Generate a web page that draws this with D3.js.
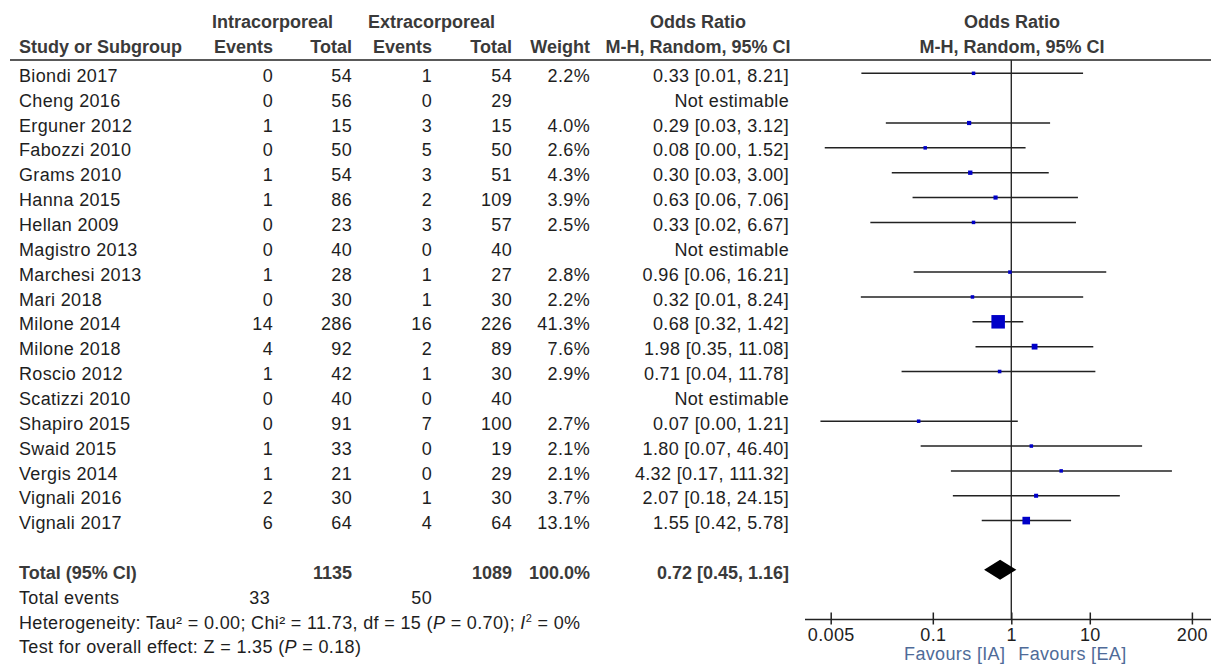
<!DOCTYPE html>
<html>
<head>
<meta charset="utf-8">
<script src="https://cdn.jsdelivr.net/npm/d3@7/dist/d3.min.js"></script>
<style>
  html, body { margin: 0; padding: 0; background: #fff; }
  svg { display: block; }
  text { font-family: "Liberation Sans", Arial, sans-serif; font-size: 18px; fill: #1e1e1e; letter-spacing: 0.35px; }
  .hdr { font-weight: bold; fill: #3a3a3a; letter-spacing: 0px; }
</style>
</head>
<body>
<svg id="chart" width="1211" height="665"></svg>
<script>
// ---------------- data ----------------
const studies = ["Biondi 2017","Cheng 2016","Erguner 2012","Fabozzi 2010","Grams 2010","Hanna 2015",
  "Hellan 2009","Magistro 2013","Marchesi 2013","Mari 2018","Milone 2014","Milone 2018","Roscio 2012",
  "Scatizzi 2010","Shapiro 2015","Swaid 2015","Vergis 2014","Vignali 2016","Vignali 2017"];
const iaEvents = [0,0,1,0,1,1,0,0,1,0,14,4,1,0,0,1,1,2,6];
const iaTotal  = [54,56,15,50,54,86,23,40,28,30,286,92,42,40,91,33,21,30,64];
const eaEvents = [1,0,3,5,3,2,3,0,1,1,16,2,1,0,7,0,0,1,4];
const eaTotal  = [54,29,15,50,51,109,57,40,27,30,226,89,30,40,100,19,29,30,64];
const weights  = [2.2,null,4.0,2.6,4.3,3.9,2.5,null,2.8,2.2,41.3,7.6,2.9,null,2.7,2.1,2.1,3.7,13.1];
const orValues = [0.33,null,0.29,0.08,0.30,0.63,0.33,null,0.96,0.32,0.68,1.98,0.71,null,0.066,1.80,4.32,2.07,1.55];
const ciLower  = [0.0123,null,0.0252,0.0042,0.030,0.0552,0.016,null,0.057,0.0121,0.32,0.35,0.04,null,0.0037,0.07,0.17,0.18,0.42];
const ciUpper  = [8.21,null,3.12,1.52,3.00,7.06,6.67,null,16.21,8.24,1.42,11.08,11.78,null,1.21,46.40,111.32,24.15,5.78];

const totalIA = 1135, totalEA = 1089, totalWeight = 100.0;
const totalEventsIA = 33, totalEventsEA = 50;
const pooled = [0.72, 0.45, 1.16]; // OR, lower, upper
const tickValues = [0.005, 0.1, 1, 10, 200];
const tickLabels = ["0.005", "0.1", "1", "10", "200"];
const heterogeneity = { tau2: "0.00", chi2: "11.73", df: 15, p: "0.70", i2: "0%" };
const overall = { z: "1.35", p: "0.18" };

// ---------------- layout ----------------
const svg = d3.select("#chart");
const x = d3.scaleLog().domain([0.005, 200]).range([830.7, 1191.9]);
const y = d3.scaleLinear().domain([0, 23]).range([73.3, 73.3 + 23 * 24.85]);
const size = d3.scaleSqrt().domain([0, 41.3]).range([0, 13.5]);
const textOff = 8.6;

const cols = { study: 19, iaEv: 273, iaTot: 352, eaEv: 432, eaTot: 512, weight: 590, or: 789 };

// headers
const H1 = 28, H2 = 53;
svg.append("text").attr("class","hdr").attr("x",212).attr("y",H1).text("Intracorporeal");
svg.append("text").attr("class","hdr").attr("x",368).attr("y",H1).text("Extracorporeal");
svg.append("text").attr("class","hdr").attr("x",698).attr("y",H1).attr("text-anchor","middle").text("Odds Ratio");
svg.append("text").attr("class","hdr").attr("x",1012).attr("y",H1).attr("text-anchor","middle").text("Odds Ratio");
svg.append("text").attr("class","hdr").attr("x",cols.study).attr("y",H2).text("Study or Subgroup");
[["Events",cols.iaEv],["Total",cols.iaTot],["Events",cols.eaEv],["Total",cols.eaTot],["Weight",cols.weight]]
  .forEach(([t,cx]) => svg.append("text").attr("class","hdr").attr("x",cx).attr("y",H2).attr("text-anchor","end").text(t));
svg.append("text").attr("class","hdr").attr("x",698).attr("y",H2).attr("text-anchor","middle").text("M-H, Random, 95% CI");
svg.append("text").attr("class","hdr").attr("x",1012).attr("y",H2).attr("text-anchor","middle").text("M-H, Random, 95% CI");

svg.append("line").attr("x1",10).attr("x2",1211).attr("y1",60).attr("y2",60)
  .attr("stroke","#222").attr("stroke-width",1.6);

// rows
const fmt2 = v => v.toFixed(2);
const rows = svg.append("g");
studies.forEach((s, i) => {
  const ty = y(i) + textOff;
  rows.append("text").attr("x",cols.study).attr("y",ty).text(s);
  rows.append("text").attr("x",cols.iaEv).attr("y",ty).attr("text-anchor","end").text(iaEvents[i]);
  rows.append("text").attr("x",cols.iaTot).attr("y",ty).attr("text-anchor","end").text(iaTotal[i]);
  rows.append("text").attr("x",cols.eaEv).attr("y",ty).attr("text-anchor","end").text(eaEvents[i]);
  rows.append("text").attr("x",cols.eaTot).attr("y",ty).attr("text-anchor","end").text(eaTotal[i]);
  if (weights[i] != null)
    rows.append("text").attr("x",cols.weight).attr("y",ty).attr("text-anchor","end").text(weights[i].toFixed(1) + "%");
  rows.append("text").attr("x",cols.or).attr("y",ty).attr("text-anchor","end")
    .text(orValues[i] == null ? "Not estimable" : `${fmt2(orValues[i])} [${fmt2(ciLower[i])}, ${fmt2(ciUpper[i])}]`);
});

// total rows
const tY = y(20) + textOff;
svg.append("text").attr("class","hdr").attr("x",cols.study).attr("y",tY).text("Total (95% CI)");
svg.append("text").attr("class","hdr").attr("x",cols.iaTot).attr("y",tY).attr("text-anchor","end").text(totalIA);
svg.append("text").attr("class","hdr").attr("x",cols.eaTot).attr("y",tY).attr("text-anchor","end").text(totalEA);
svg.append("text").attr("class","hdr").attr("x",cols.weight).attr("y",tY).attr("text-anchor","end").text(totalWeight.toFixed(1) + "%");
svg.append("text").attr("class","hdr").attr("x",cols.or).attr("y",tY).attr("text-anchor","end")
  .text(`${fmt2(pooled[0])} [${fmt2(pooled[1])}, ${fmt2(pooled[2])}]`);

const eY = y(21) + textOff;
svg.append("text").attr("x",cols.study).attr("y",eY).text("Total events");
svg.append("text").attr("x",cols.iaEv - 3).attr("y",eY).attr("text-anchor","end").text(totalEventsIA);
svg.append("text").attr("x",cols.eaEv).attr("y",eY).attr("text-anchor","end").text(totalEventsEA);

const hY = y(22) + textOff;
const het = svg.append("text").attr("x",cols.study).attr("y",hY);
het.append("tspan").text(`Heterogeneity: Tau² = ${heterogeneity.tau2}; Chi² = ${heterogeneity.chi2}, df = ${heterogeneity.df} (`);
het.append("tspan").attr("font-style","italic").text("P");
het.append("tspan").text(` = ${heterogeneity.p}); `);
het.append("tspan").attr("font-style","italic").text("I");
het.append("tspan").attr("font-size","11px").attr("dy",-7).text("2");
het.append("tspan").attr("dy",7).text(` = ${heterogeneity.i2}`);

const oY = y(23) + textOff;
const ov = svg.append("text").attr("x",cols.study).attr("y",oY);
ov.append("tspan").text(`Test for overall effect: Z = ${overall.z} (`);
ov.append("tspan").attr("font-style","italic").text("P");
ov.append("tspan").text(` = ${overall.p})`);

// ---------------- forest plot ----------------
const plot = svg.append("g");
plot.append("line").attr("x1",x(1)).attr("x2",x(1)).attr("y1",60).attr("y2",619.5)
  .attr("stroke","#2a2a2a").attr("stroke-width",1.4);

const est = studies.map((s,i) => ({i, or: orValues[i], lo: ciLower[i], hi: ciUpper[i], w: weights[i]}))
  .filter(d => d.or != null);

plot.selectAll(".ci").data(est).join("line")
  .attr("x1", d => x(d.lo)).attr("x2", d => x(d.hi))
  .attr("y1", d => y(d.i)).attr("y2", d => y(d.i))
  .attr("stroke","#222").attr("stroke-width",1.5);

plot.selectAll(".sq").data(est).join("rect")
  .attr("x", d => x(d.or) - Math.max(3.5, size(d.w))/2)
  .attr("y", d => y(d.i) - Math.max(3.5, size(d.w))/2)
  .attr("width", d => Math.max(3.5, size(d.w))).attr("height", d => Math.max(3.5, size(d.w)))
  .attr("fill","#0000c8");

// diamond
const dy = y(20) - 0.5;
plot.append("path")
  .attr("d", `M${x(pooled[1])},${dy} L${x(pooled[0])},${dy-10} L${x(pooled[2])},${dy} L${x(pooled[0])},${dy+10} Z`)
  .attr("fill","#000");

// axis
const axisY = 619.5;
plot.append("line").attr("x1",805).attr("x2",1211).attr("y1",axisY).attr("y2",axisY)
  .attr("stroke","#222").attr("stroke-width",1.5);
const axis = d3.axisBottom(x).tickValues(tickValues).tickFormat((d,i) => tickLabels[i]).tickSize(5);
const ag = plot.append("g").attr("transform",`translate(0,${axisY})`).call(axis);
ag.select(".domain").remove();
ag.selectAll(".tick line").attr("y1",-7).attr("y2",5).attr("stroke","#222").attr("stroke-width",1.5);
ag.selectAll(".tick text").attr("y",21.5).attr("dy",null)
  .style("font-family",'"Liberation Sans", Arial, sans-serif').style("font-size","18px")
  .style("letter-spacing","0.35px").attr("fill","#1e1e1e");

// favours
svg.append("text").attr("x",x(1) - 6).attr("y",660).attr("text-anchor","end").style("fill","#4f6b98").text("Favours [IA]");
svg.append("text").attr("x",x(1) + 7).attr("y",660).style("fill","#4f6b98").text("Favours [EA]");
</script>
</body>
</html>
